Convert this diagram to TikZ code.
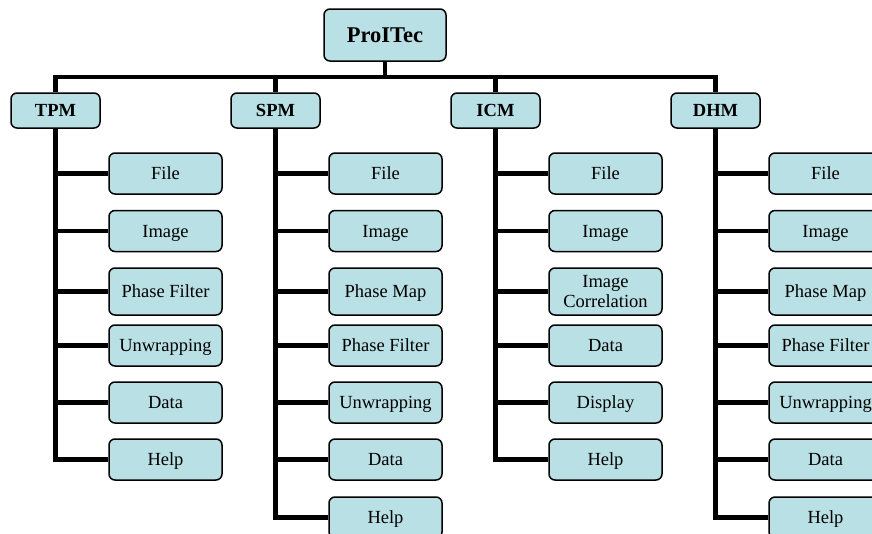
\documentclass[tikz,border=0pt]{standalone}
\usepackage{fontspec}
\setmainfont{Liberation Serif}
\definecolor{boxfill}{RGB}{185,224,228}
\begin{document}
\begin{tikzpicture}[x=1pt,y=-1pt,
  box/.style={draw=black, line width=1.5pt, fill=boxfill, rounded corners=6pt, inner sep=0pt, align=center},
  rootbox/.style={box, minimum width=122pt, minimum height=52pt, text height=15pt, text depth=0pt, font=\fontsize{22.5}{24}\selectfont\bfseries},
  topbox/.style={box, minimum width=89pt, minimum height=35pt, text height=12.2pt, text depth=0pt, font=\fontsize{18.5}{20}\selectfont\bfseries},
  basebox/.style={box, minimum width=113pt, minimum height=41pt, font=\fontsize{18.5}{20}\selectfont},
  childbox/.style={basebox, text height=12.2pt, text depth=0pt},
  tallbox/.style={childbox, minimum height=47pt},
  twolinebox/.style={basebox, minimum height=47pt},
  conn/.style={draw=black, line width=4.5pt, line join=miter}]
\clip (0,0) rectangle (872,533);
\useasboundingbox (0,0) rectangle (872,533);

\coordinate (busy) at (0,77);
\def\ra{173.5}\def\rb{231}\def\rc{291.5}\def\rd{345.5}\def\re{402.5}\def\rf{459.5}\def\rg{517.5}

\node[rootbox] (root) at (385,35) {ProITec};
\node[topbox] (tpm) at (55.5,110.5) {TPM};
\node[topbox] (spm) at (275.5,110.5) {SPM};
\node[topbox] (icm) at (495.5,110.5) {ICM};
\node[topbox] (dhm) at (715.5,110.5) {DHM};

% TPM children
\node[childbox] (t1) at (165.5,\ra) {File};
\node[childbox] (t2) at (165.5,\rb) {Image};
\node[tallbox]  (t3) at (165.5,\rc) {Phase Filter};
\node[childbox] (t4) at (165.5,\rd) {Unwrapping};
\node[childbox] (t5) at (165.5,\re) {Data};
\node[childbox] (t6) at (165.5,\rf) {Help};

% SPM children
\node[childbox] (s1) at (385.5,\ra) {File};
\node[childbox] (s2) at (385.5,\rb) {Image};
\node[tallbox]  (s3) at (385.5,\rc) {Phase Map};
\node[childbox] (s4) at (385.5,\rd) {Phase Filter};
\node[childbox] (s5) at (385.5,\re) {Unwrapping};
\node[childbox] (s6) at (385.5,\rf) {Data};
\node[childbox] (s7) at (385.5,\rg) {Help};

% ICM children
\node[childbox]   (i1) at (605.5,\ra) {File};
\node[childbox]   (i2) at (605.5,\rb) {Image};
\node[twolinebox] (i3) at (605.5,\rc) {Image\\Correlation};
\node[childbox]   (i4) at (605.5,\rd) {Data};
\node[childbox]   (i5) at (605.5,\re) {Display};
\node[childbox]   (i6) at (605.5,\rf) {Help};

% DHM children
\node[childbox] (d1) at (825.5,\ra) {File};
\node[childbox] (d2) at (825.5,\rb) {Image};
\node[tallbox]  (d3) at (825.5,\rc) {Phase Map};
\node[childbox] (d4) at (825.5,\rd) {Phase Filter};
\node[childbox] (d5) at (825.5,\re) {Unwrapping};
\node[childbox] (d6) at (825.5,\rf) {Data};
\node[childbox] (d7) at (825.5,\rg) {Help};

% bus
\draw[conn] (tpm.north) -- (tpm.north |- busy) -- (dhm.north |- busy) -- (dhm.north);
\draw[conn] (root.south) -- (root.south |- busy);
\draw[conn] (spm.north) -- (spm.north |- busy);
\draw[conn] (icm.north) -- (icm.north |- busy);

% trunks and branches
\draw[conn] (tpm.south) |- (t6.west);
\foreach \c in {t1,t2,t3,t4,t5} \draw[conn] (tpm.south |- \c.west) -- (\c.west);
\draw[conn] (spm.south) |- (s7.west);
\foreach \c in {s1,s2,s3,s4,s5,s6} \draw[conn] (spm.south |- \c.west) -- (\c.west);
\draw[conn] (icm.south) |- (i6.west);
\foreach \c in {i1,i2,i3,i4,i5} \draw[conn] (icm.south |- \c.west) -- (\c.west);
\draw[conn] (dhm.south) |- (d7.west);
\foreach \c in {d1,d2,d3,d4,d5,d6} \draw[conn] (dhm.south |- \c.west) -- (\c.west);
\end{tikzpicture}
\end{document}
